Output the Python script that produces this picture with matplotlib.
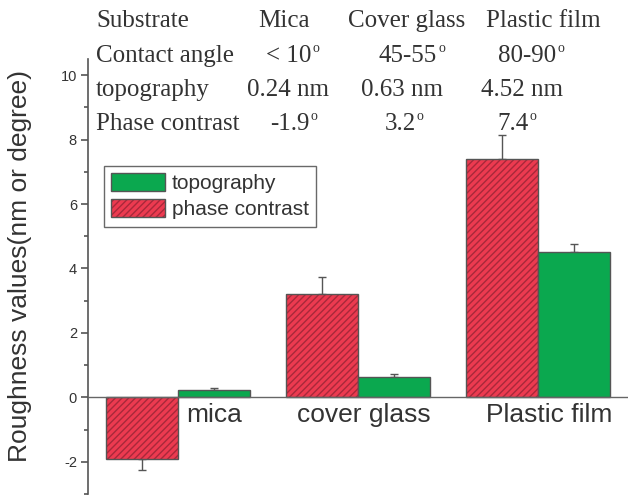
import matplotlib
matplotlib.use("Agg")
import matplotlib.pyplot as plt
from matplotlib.patches import Patch
from matplotlib.colors import to_rgba
import numpy as np

# ---- data ----
categories = ["mica", "cover glass", "Plastic film"]
phase_contrast = [-1.9, 3.2, 7.4]
phase_err = [0.35, 0.55, 0.75]
topography = [0.24, 0.63, 4.52]
topo_err = [0.05, 0.08, 0.23]
yticks_major = [-2, 0, 2, 4, 6, 8, 10]

table_rows = [
    ["Substrate", "Mica", "Cover glass", "Plastic film"],
    ["Contact angle", "< 10", "45-55", "80-90"],
    ["topography", "0.24 nm", "0.63 nm", "4.52 nm"],
    ["Phase contrast", "-1.9", "3.2", "7.4"],
]
row_has_degree = [False, True, False, True]

# ---- style ----
plt.rcParams["font.family"] = ["Liberation Sans", "DejaVu Sans"]
plt.rcParams["axes.unicode_minus"] = False
plt.rcParams["hatch.linewidth"] = 1.0

RED = "#EC3A50"
HATCH = "#A8283A"
GREEN = "#0BA84F"
EDGE = "#555555"
TXT = "#333333"
plt.rcParams["hatch.color"] = HATCH

W, H = 638, 501
fig = plt.figure(figsize=(W / 100, H / 100), dpi=100)
ax = fig.add_axes([88 / W, (H - 494) / H, 540 / W, (494 - 59) / H])

x = np.arange(len(categories))
bw = 0.4

# red hatched bars (fill + hatch), then outline
ax.bar(x - bw / 2, phase_contrast, bw, color=RED, edgecolor=None, linewidth=0,
       hatch="/////", zorder=2)
ax.bar(x - bw / 2, phase_contrast, bw, fill=False, edgecolor=EDGE, linewidth=1.0, zorder=3)
ax.bar(x + bw / 2, topography, bw, color=GREEN, edgecolor=EDGE, linewidth=1.0, zorder=3)

# one-sided error bars
pc = np.array(phase_contrast)
pe = np.array(phase_err)
lower = np.where(pc < 0, pe, 0)
upper = np.where(pc >= 0, pe, 0)
ax.errorbar(x - bw / 2, pc, yerr=[lower, upper], fmt="none", ecolor=EDGE,
            elinewidth=1.0, capsize=3, capthick=1.0, zorder=1)
ax.errorbar(x + bw / 2, topography, yerr=[np.zeros(3), topo_err], fmt="none",
            ecolor=EDGE, elinewidth=1.0, capsize=3, capthick=1.0, zorder=1)

ax.set_xlim(-0.5, 2.5)
ax.set_ylim(-3, 10.5)
ax.axhline(0, color="#666666", lw=1.0, zorder=4)

for s in ["top", "right", "bottom"]:
    ax.spines[s].set_visible(False)
ax.spines["left"].set_color("#555555")
ax.spines["left"].set_linewidth(1.2)
ax.set_xticks([])
ax.set_yticks(yticks_major)
ax.set_yticklabels([str(v) for v in yticks_major])
ax.set_yticks(np.arange(-3, 10.5, 2), minor=True)
ax.tick_params(axis="y", which="major", direction="out", length=5, width=1.2,
               color="#555555", labelsize=10.5, labelcolor=TXT, pad=3)
ax.tick_params(axis="y", which="minor", direction="out", length=3, width=1.2,
               color="#555555")

# category labels below zero line
label_x = [0.20, 1.03, 2.06]
for lx, name in zip(label_x, categories):
    ax.text(lx, -0.56, name, ha="center", va="center", fontsize=19, color=TXT)

fig.text(20 / W, 1 - 266 / H, "Roughness values(nm or degree)", rotation=90,
         ha="center", va="center", fontsize=19, color=TXT)

# legend
h_topo = Patch(facecolor=GREEN, edgecolor=EDGE, linewidth=1.0)
h_phase = Patch(facecolor=RED, edgecolor=EDGE, linewidth=1.0, hatch="/////")
h_phase._hatch_color = to_rgba(HATCH)
leg = ax.legend([h_topo, h_phase], ["topography", "phase contrast"],
                loc="upper left", bbox_to_anchor=(104 / W, 1 - 166 / H),
                bbox_transform=fig.transFigure, fontsize=15, frameon=True,
                fancybox=False, borderaxespad=0, borderpad=0.35,
                handlelength=2.6, handleheight=0.9, handletextpad=0.3,
                labelspacing=0.3)
leg.get_frame().set_edgecolor("#444444")
leg.get_frame().set_linewidth(1.0)
for t in leg.get_texts():
    t.set_color(TXT)

# table at top (serif)
centers = [
    [96, 284, 407, 543],
    [96, 289, 408, 527],
    [96, 288, 402, 522],
    [96, 290, 400, 513],
]
baselines = [27, 62, 96, 130]
deg_texts = []
for r, row in enumerate(table_rows):
    for c, txt in enumerate(row):
        t = fig.text(centers[r][c] / W, 1 - baselines[r] / H, txt,
                     ha="left" if c == 0 else "center", va="baseline",
                     fontsize=18, family="Liberation Serif", color=TXT)
        if c > 0 and row_has_degree[r]:
            deg_texts.append((t, baselines[r]))

fig.canvas.draw()
renderer = fig.canvas.get_renderer()
for t, base in deg_texts:
    bb = t.get_window_extent(renderer)
    fig.text((bb.x1 + 1) / W, 1 - (base - 10) / H, "o", ha="left", va="baseline",
             fontsize=10, family="Liberation Serif", color=TXT)

fig.savefig("out.png", dpi=100)
